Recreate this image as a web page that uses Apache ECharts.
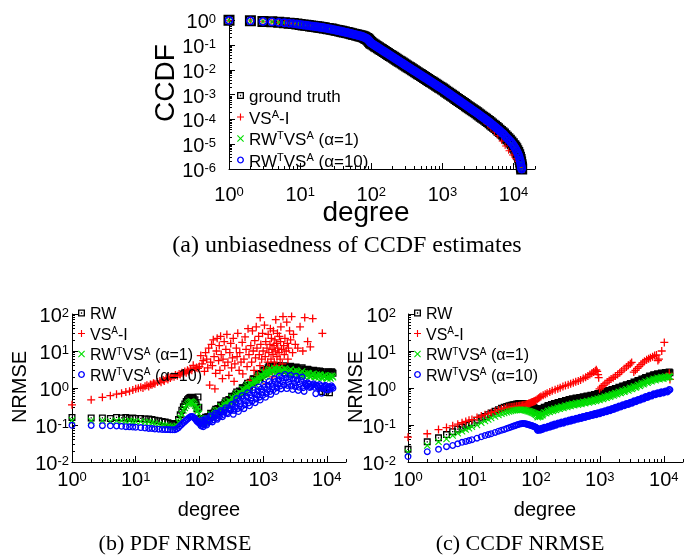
<!DOCTYPE html>
<html><head><meta charset="utf-8">
<script src="https://cdn.jsdelivr.net/npm/echarts@6/dist/echarts.min.js"></script>
<style>html,body{margin:0;padding:0;background:#fff;}#c{width:694px;height:557px;}</style>
</head><body><div id="c"></div>
<script>
// ---------- (a) CCDF ----------
const topDeg = [1,2,3,4,5,6,7,8,9,10,
11,12,13,14,15,16,17,18,19,20,
21,22,24,25,27,28,30,32,34,36,38,40,42,45,47,50,53,56,59,62,65,68,71,74,77,80,83,86,89,92,95,98,100,
105,110,115,120,126,132,138,145,152,160,168,176,185,194,204,214,224,235,247,259,272,285,299,314,330,346,363,381,400,420,441,463,486,510,535,562,590,620,650,683,717,752,790,829,870,913,958,
1005,1055,1107,1162,1219,1279,1342,1408,1477,1550,1626,1706,1790,1878,1970,2067,2169,2276,2388,2505,2628,2757,2893,3035,
3184,3341,3505,3677,3858,4048,4247,4456,4675,4904,5145,5398,5663,5942,6234,6540,6861,7199,7552,7924,8313,8721,9150,9600,10070,10400,10750,11100,11450,11800,12100,12350,12550,12750,12900,13000];
const topTruth = [1,0.955,0.91,0.87,0.83,0.8,0.77,0.74,0.71,0.681,
0.656,0.634,0.615,0.597,0.581,0.567,0.555,0.542,0.53,0.52,
0.507,0.494,0.472,0.462,0.444,0.435,0.42,0.403,0.387,0.373,0.36,0.349,0.338,0.324,0.314,0.302,0.29,0.278,0.268,0.258,0.249,0.241,0.234,0.227,0.217,0.207,0.196,0.186,0.174,0.157,0.141,0.129,0.12,
0.11,0.101,0.0927,0.0859,0.0785,0.0718,0.0662,0.0605,0.0553,0.0504,0.0461,0.0422,0.0385,0.0352,0.0321,0.0294,0.027,0.0248,0.0225,0.0207,0.0189,0.0173,0.0158,0.0145,0.0132,0.0121,0.0111,0.0101,0.00925,0.00845,0.00773,0.00706,0.00646,0.0059,0.0054,0.00493,0.00451,0.00411,0.00377,0.00344,0.00314,0.00288,0.00262,0.0024,0.00219,0.00201,0.00184,
0.00168,0.00153,0.00139,0.00126,0.00114,0.00104,0.000942,0.000855,0.00078,0.000708,0.000643,0.000583,0.00053,0.000481,0.000439,0.000398,0.000361,0.000328,0.000298,0.00027,0.000245,0.000224,0.000203,0.000185,
0.000167,0.000151,0.000136,0.000124,0.000112,0.000101,9.1e-5,8.2e-5,7.4e-5,6.6e-5,5.9e-5,5.3e-5,4.7e-5,4.2e-5,3.7e-5,3.3e-5,2.9e-5,2.6e-5,2.2e-5,1.9e-5,1.66e-5,1.44e-5,1.23e-5,1.05e-5,8.7e-6,7.6e-6,6.5e-6,5.5e-6,4.6e-6,3.8e-6,3.0e-6,2.4e-6,1.9e-6,1.5e-6,1.2e-6,1.0e-6];
const topA10 = [1,0.955,0.91,0.87,0.83,0.8,0.77,0.74,0.71,0.681,
0.656,0.634,0.615,0.597,0.581,0.567,0.555,0.542,0.53,0.52,
0.507,0.494,0.472,0.462,0.444,0.435,0.42,0.403,0.387,0.373,0.36,0.349,0.338,0.324,0.314,0.302,0.29,0.278,0.268,0.258,0.249,0.241,0.234,0.227,0.217,0.207,0.196,0.186,0.174,0.157,0.141,0.129,0.12,
0.11,0.101,0.0927,0.0859,0.0785,0.0718,0.0662,0.0605,0.0553,0.0504,0.0461,0.0422,0.0385,0.0352,0.0321,0.0294,0.027,0.0248,0.0225,0.0207,0.0189,0.0173,0.0158,0.0145,0.0132,0.0121,0.0111,0.0101,0.00925,0.00845,0.00773,0.00706,0.00646,0.0059,0.0054,0.00493,0.00451,0.00411,0.00377,0.00344,0.00314,0.00288,0.00262,0.0024,0.00219,0.00201,0.00184,
0.00168,0.00153,0.00139,0.00126,0.00114,0.00104,0.000942,0.000855,0.00078,0.000708,0.000643,0.000583,0.00053,0.000481,0.000439,0.000398,0.000361,0.000328,0.000298,0.00027,0.000245,0.000224,0.000203,0.000185,
0.000167,0.000151,0.000136,0.000124,0.000112,0.000101,9.1e-5,8.2e-5,7.4e-5,6.6e-5,5.9e-5,5.3e-5,4.7e-5,4.2e-5,3.7e-5,3.3e-5,2.9e-5,2.6e-5,2.2e-5,1.9e-5,1.66e-5,1.44e-5,1.23e-5,1.05e-5,8.5e-6,7.3e-6,6.2e-6,5.2e-6,4.3e-6,3.5e-6,2.8e-6,2.2e-6,1.8e-6,1.4e-6,1.15e-6,1.0e-6];
const topDegS = [1,2,3,4,5,6,7,8,9,10,12,14,16,18,20,23,26,30,34,38,43,48,54,60,67,75,82,88,93,100,110,120,135,150,170,190,215,240,270,300,340,380,430,480,540,600,680,760,850,950,1070,1200,1350,1500,1700,1900,2150,2400,2700,3000,3400,3800,4300,4800,5400,6000,6800,7600,8500,9500,10500,11500,12200,12700,13000];
const topVsa = [1,0.955,0.91,0.87,0.83,0.8,0.77,0.74,0.71,0.68,
0.64,0.6,0.57,0.54,0.52,0.48,0.45,0.42,0.39,0.365,
0.34,0.315,0.29,0.27,0.25,0.225,0.2,0.18,0.15,0.12,
0.101,0.086,0.069,0.057,0.045,0.0366,0.0292,0.0238,0.0192,0.0157,
0.0125,0.0102,0.0081,0.0066,0.0053,0.00437,0.00347,0.00282,0.00229,0.00186,
0.00148,0.00117,0.00093,0.00076,0.00059,0.00047,0.00037,0.000295,0.000234,0.00017,
0.00012,8.8e-5,6.3e-5,4.5e-5,3.1e-5,2.2e-5,1.35e-5,8.5e-6,5.5e-6,3.7e-6,
2.6e-6,2.0e-6,1.5e-6,1.2e-6,1.0e-6];
const topA1 = [1,0.955,0.91,0.87,0.83,0.8,0.77,0.74,0.71,0.68,
0.64,0.6,0.57,0.54,0.52,0.48,0.45,0.42,0.39,0.365,
0.34,0.315,0.29,0.27,0.25,0.225,0.2,0.18,0.15,0.12,
0.101,0.086,0.069,0.057,0.045,0.0366,0.0292,0.0238,0.0192,0.0157,
0.0125,0.0102,0.0081,0.0066,0.0053,0.00437,0.00347,0.00282,0.00229,0.00186,
0.00148,0.00117,0.00093,0.00076,0.00059,0.00047,0.00037,0.000295,0.000234,0.000188,
0.000145,0.000114,8.7e-5,6.8e-5,5.1e-5,4.0e-5,2.9e-5,2.1e-5,1.5e-5,1.05e-5,
7.5e-6,4.8e-6,3.0e-6,1.8e-6,1.0e-6];

// ---------- degrees for (b) and (c) ----------
const bDeg = [1,2,3,4,5,6,7,8,9,10,
12,14,16,18,20,23,26,29,32,35,38,
41,44,47,50,53,56,59,62,65,68,71,74,77,80,83,86,89,92,95,98,100,
105,110,115,120,125,130,140,150,160,170,180,190,200,215,230,245,260,280,300,320,
340,360,385,410,440,470,500,530,570,610,650,700,750,800,850,900,960,1020,1090,1160,
1240,1320,1400,1500,1600,1700,1800,1920,2050,2200,2350,2500,2700,2900,3100,3300,3550,3800,4100,4400,
4700,5000,5400,5800,6200,6700,7200,7700,8300,8900,9500,10200,11000,11800,12500];
const bDegB = [102,107,112,117,122,127,135,145,155,165,175,185,195,207,222,237,252,270,290,310,
330,350,372,397,425,455,485,515,550,590,630,675,725,775,825,875,930,990,1055,1125,
1200,1280,1360,1450,1550,1650,1750,1860,1985,2125,2275,2425,2600,2800,3000,3200,3425,3675,3950,4250,
4550,4850,5200,5600,6000,6450,6950,7450,8000,8600,9200,9850,10600,11400,12150];

// ---------- (b) PDF NRMSE ----------
const pdfRW = [0.16,0.155,0.155,0.15,0.16,0.155,0.16,0.15,0.155,0.15,
0.15,0.145,0.145,0.14,0.135,0.13,0.125,0.12,0.115,0.11,0.105,
0.1,0.11,0.14,0.19,0.25,0.31,0.37,0.43,0.48,0.52,0.55,0.56,0.55,0.53,0.48,0.42,0.35,0.27,0.57,0.3,0.15,
0.12,0.144,0.113,0.132,0.161,0.129,0.164,0.207,0.172,0.215,0.268,0.218,0.27,0.345,0.287,0.36,0.449,0.374,0.48,0.598,
0.496,0.61,0.782,0.644,0.81,1.02,0.844,1.06,1.35,1.12,1.41,1.79,1.5,1.88,2.36,1.93,2.43,3.05,2.52,3.16,
3.99,3.09,3.6,4.14,3.13,3.55,4.08,3.05,3.5,3.97,2.96,3.4,3.85,2.87,3.25,3.68,2.74,3.1,3.51,2.61,
2.95,3.19,2.57,2.8,3.03,2.43,2.7,2.9,0.8,2.6,0.75,2.3,0.74,2.75,2.5];
const pdfRWB = [0.144,0.112,0.134,0.118,0.144,0.133,0.167,0.16,0.202,0.192,0.24,0.225,0.279,0.263,0.334,0.319,0.399,0.381,0.486,0.463,
0.584,0.551,0.69,0.657,0.83,0.793,0.998,0.949,1.19,1.14,1.44,1.38,1.75,1.67,2.1,1.98,2.48,2.36,2.96,2.82,
3.55,3.3,3.83,3.35,3.85,3.33,3.8,3.27,3.75,3.23,3.67,3.16,3.61,3.09,3.5,2.99,3.39,2.9,3.28,2.81,
3.18,2.72,3.07,2.62,2.96,2.53,2.89,2.48,2.81,2.42,2.76,2.37,2.7,2.33,2.68];
const pdfA1 = [0.135,0.13,0.13,0.125,0.13,0.13,0.125,0.13,0.125,0.125,
0.125,0.12,0.12,0.115,0.11,0.105,0.1,0.097,0.094,0.09,0.088,
0.088,0.095,0.12,0.16,0.2,0.25,0.29,0.33,0.37,0.4,0.42,0.43,0.42,0.4,0.37,0.33,0.28,0.23,0.3,0.2,0.14,
0.12,0.142,0.106,0.125,0.153,0.115,0.15,0.195,0.153,0.195,0.248,0.191,0.245,0.319,0.255,0.33,0.419,0.332,0.43,0.555,
0.434,0.55,0.708,0.561,0.72,0.932,0.731,0.93,1.215,0.961,1.23,1.605,1.275,1.63,2.1,1.632,2.1,2.69,2.083,2.6,
3.25,2.42,2.95,3.54,2.55,3.0,3.48,2.51,2.9,3.36,2.38,2.75,3.19,2.25,2.6,3.01,2.13,2.45,2.83,2.0,
2.3,2.53,2.03,2.2,2.42,1.94,2.1,2.31,1.85,2.05,2.2,1.8,2.0,2.15,1.95];
const pdfA1B = [0.135,0.101,0.124,0.106,0.132,0.119,0.151,0.143,0.184,0.17,0.216,0.201,0.254,0.235,0.302,0.285,0.362,0.34,0.443,0.414,
0.529,0.488,0.626,0.584,0.756,0.708,0.907,0.846,1.08,1.01,1.31,1.22,1.59,1.49,1.9,1.75,2.21,2.02,2.57,2.35,
2.92,2.58,3.13,2.73,3.24,2.76,3.22,2.71,3.15,2.65,3.06,2.56,2.95,2.47,2.84,2.37,2.73,2.28,2.62,2.19,
2.52,2.12,2.45,2.04,2.38,2.0,2.3,1.93,2.25,1.89,2.19,1.86,2.16,1.82,2.1];
const pdfA10 = [0.098,0.097,0.096,0.095,0.094,0.092,0.09,0.089,0.088,0.087,
0.085,0.083,0.081,0.08,0.078,0.077,0.076,0.075,0.075,0.074,0.074,
0.074,0.078,0.085,0.095,0.105,0.115,0.125,0.135,0.145,0.155,0.165,0.17,0.17,0.165,0.155,0.145,0.135,0.125,0.12,0.115,0.11,
0.105,0.135,0.09,0.116,0.15,0.1,0.134,0.178,0.121,0.159,0.21,0.142,0.185,0.246,0.168,0.222,0.294,0.201,0.267,0.354,
0.194,0.315,0.519,0.231,0.378,0.623,0.277,0.449,0.744,0.332,0.54,0.896,0.4,0.652,1.07,0.472,0.769,1.26,0.561,0.914,
1.5,0.67,1.09,1.8,0.8,1.29,2.11,0.943,1.5,2.33,0.962,1.45,2.2,0.91,1.37,2.09,0.858,1.3,1.97,0.81,
1.22,1.38,1.03,1.15,1.3,0.7,1.1,1.24,0.72,1.05,1.18,0.89,1.0,1.15,0.98];
const pdfA10B = [0.123,0.094,0.123,0.101,0.132,0.109,0.144,0.123,0.165,0.138,0.184,0.153,0.203,0.17,0.227,0.192,0.255,0.216,0.29,0.245,
0.365,0.246,0.406,0.276,0.458,0.313,0.518,0.35,0.58,0.395,0.656,0.446,0.745,0.507,0.838,0.566,0.935,0.634,1.05,0.711,
1.18,0.8,1.33,0.896,1.49,1.01,1.66,1.13,1.84,1.2,1.86,1.17,1.79,1.13,1.73,1.09,1.66,1.05,1.6,1.01,
1.32,1.13,1.27,1.08,1.22,1.04,1.18,1.01,1.14,0.99,1.11,0.96,1.08,0.93,1.06];
const pdfVsaDeg = [1,2,3,4,5,6,7,8,9,10,11,12,13,14,15,16,17,18,19,20,22,24,25,27,28,30,32,33,35,37,40,42,45,48,50,53,56,59,62,65,68,72,76,80,85,90,95,100,
105,110,115,120,125,130,135,140,150,155,160,165,170,180,185,190,200,205,210,215,220,230,235,245,250,260,270,280,290,300,310,320,330,145,175,
340,350,360,380,390,400,420,430,450,470,480,500,520,540,560,580,600,620,640,660,680,700,720,740,760,780,800,820,850,870,890,900,920,950,980,1000,
1020,1050,1080,1100,1120,1150,1180,1200,1230,1250,1280,1300,1330,1350,1380,1400,1430,1450,1480,1500,1530,1550,1580,1600,1630,1650,1680,1700,1750,1780,1800,1850,1880,1900,1950,2000,2050,2100,2150,2200,2250,2300,2350,2400,2450,2500,2600,2700,2800,2900,3000,
3200,3500,3800,4200,4500,5000,5500,6000,8500];
const pdfVsaVal = [0.35,0.48,0.56,0.62,0.68,0.72,0.78,0.82,0.88,0.95,0.98,1.05,1.0,1.12,1.18,1.1,1.25,1.22,1.35,1.3,1.45,1.55,1.42,1.65,1.55,1.8,1.7,1.95,1.85,2.05,2.0,2.25,2.15,2.4,2.3,2.6,2.45,2.8,2.6,3.0,2.8,3.2,3.0,4.1,3.3,3.6,3.4,3.8,
7.5,4.5,5.5,2.8,9,6,3.5,12,5,15,4,20,7,2.5,10,22,5.5,14,3,25,8,1.8,6,18,4,11,28,5,2.2,9,16,3.5,6.5,1.2,0.95,
22,1.5,4.5,12,7,30,3,9,5,17,2.4,6,24,11,3.8,40,8,1.6,14,5,35,10,3,19,6.5,45,12,2.2,25,8,4,80,15,6,30,10,
3,50,7,18,1.3,12,5,28,9,3.5,15,40,6,22,11,2,8,35,14,5,20,10,70,4,16,7,30,12,3,9,25,6,18,45,11,4.5,85,14,8,22,2.8,10,60,16,6,12,35,20,85,9,28,
15,12,45,10,80,18,13,75,30];

// ---------- (c) CCDF NRMSE ----------
const ccdfRW = [0.022,0.035,0.045,0.055,0.066,0.077,0.087,0.097,0.105,0.115,
0.135,0.155,0.17,0.19,0.21,0.235,0.26,0.285,0.3,0.315,0.33,
0.34,0.35,0.36,0.37,0.375,0.38,0.38,0.38,0.375,0.37,0.36,0.355,0.35,0.34,0.33,0.32,0.31,0.3,0.29,0.28,0.27,
0.24,0.23,0.24,0.25,0.265,0.275,0.295,0.31,0.325,0.335,0.345,0.355,0.36,0.375,0.39,0.4,0.41,0.425,0.44,0.455,
0.465,0.475,0.49,0.5,0.51,0.52,0.53,0.54,0.555,0.57,0.58,0.595,0.61,0.625,0.64,0.655,0.675,0.7,0.72,0.74,
0.765,0.79,0.815,0.845,0.875,0.905,0.935,0.97,1.01,1.05,1.09,1.13,1.18,1.23,1.28,1.33,1.4,1.46,1.54,1.62,
1.7,1.77,1.86,1.95,2.03,2.12,2.2,2.26,2.32,2.37,2.42,2.45,2.48,2.52,2.6];
const ccdfRWB = [0.27,0.221,0.249,0.23,0.273,0.254,0.302,0.285,0.337,0.31,0.36,0.329,0.379,0.346,0.406,0.371,0.429,0.393,0.459,0.421,
0.488,0.442,0.512,0.465,0.535,0.484,0.557,0.503,0.581,0.528,0.61,0.553,0.639,0.581,0.671,0.609,0.705,0.647,0.753,0.686,
0.797,0.731,0.851,0.78,0.912,0.837,0.975,0.896,1.05,0.968,1.13,1.04,1.22,1.13,1.33,1.23,1.45,1.34,1.59,1.49,
1.76,1.63,1.92,1.79,2.11,1.95,2.29,2.1,2.43,2.2,2.54,2.29,2.61,2.35,2.71];
const ccdfA1 = [0.018,0.028,0.035,0.042,0.052,0.06,0.068,0.075,0.082,0.09,
0.1,0.115,0.128,0.14,0.155,0.17,0.185,0.2,0.21,0.22,0.23,
0.24,0.245,0.25,0.255,0.26,0.26,0.26,0.26,0.255,0.25,0.245,0.24,0.235,0.23,0.225,0.22,0.215,0.21,0.205,0.2,0.19,
0.175,0.17,0.175,0.18,0.19,0.2,0.215,0.225,0.235,0.245,0.25,0.26,0.265,0.275,0.285,0.295,0.3,0.31,0.32,0.33,
0.34,0.35,0.36,0.365,0.375,0.38,0.39,0.395,0.405,0.415,0.425,0.435,0.445,0.46,0.47,0.48,0.495,0.515,0.53,0.545,
0.565,0.585,0.605,0.63,0.655,0.68,0.705,0.73,0.76,0.79,0.82,0.855,0.895,0.935,0.975,1.02,1.07,1.12,1.18,1.25,
1.31,1.37,1.44,1.51,1.58,1.65,1.71,1.76,1.81,1.85,1.88,1.91,1.94,1.97,2.0];
const ccdfA1B = [0.193,0.162,0.182,0.167,0.196,0.183,0.219,0.207,0.244,0.226,0.263,0.24,0.278,0.254,0.297,0.273,0.316,0.287,0.334,0.306,
0.355,0.324,0.376,0.34,0.392,0.355,0.408,0.368,0.424,0.385,0.445,0.404,0.466,0.425,0.493,0.447,0.517,0.475,0.553,0.506,
0.588,0.541,0.631,0.581,0.682,0.628,0.735,0.675,0.79,0.729,0.853,0.788,0.928,0.86,1.01,0.938,1.11,1.03,1.22,1.14,
1.36,1.26,1.49,1.39,1.64,1.52,1.78,1.63,1.89,1.72,1.98,1.78,2.04,1.84,2.1];
const ccdfA10 = [0.014,0.019,0.022,0.026,0.028,0.031,0.034,0.036,0.038,0.04,
0.044,0.048,0.052,0.055,0.058,0.063,0.068,0.072,0.076,0.08,0.084,
0.088,0.092,0.096,0.1,0.103,0.106,0.108,0.11,0.11,0.108,0.106,0.104,0.102,0.1,0.098,0.096,0.094,0.092,0.09,0.088,0.085,
0.076,0.074,0.075,0.077,0.079,0.081,0.084,0.087,0.09,0.093,0.096,0.099,0.102,0.106,0.11,0.113,0.116,0.12,0.124,0.128,
0.132,0.135,0.139,0.143,0.148,0.152,0.156,0.16,0.165,0.17,0.175,0.181,0.187,0.192,0.197,0.202,0.208,0.214,0.221,0.228,
0.236,0.244,0.252,0.262,0.272,0.282,0.292,0.303,0.315,0.328,0.341,0.353,0.37,0.386,0.402,0.418,0.437,0.456,0.478,0.5,
0.522,0.543,0.57,0.597,0.622,0.65,0.68,0.7,0.72,0.74,0.76,0.78,0.8,0.84,0.9];
const ccdfA10B = [0.084,0.071,0.078,0.072,0.082,0.076,0.087,0.082,0.093,0.087,0.1,0.093,0.106,0.099,0.113,0.106,0.121,0.112,0.128,0.12,
0.137,0.127,0.144,0.134,0.153,0.143,0.162,0.15,0.171,0.16,0.182,0.169,0.193,0.181,0.205,0.19,0.215,0.2,0.229,0.214,
0.244,0.228,0.26,0.244,0.28,0.263,0.301,0.283,0.324,0.306,0.352,0.33,0.38,0.359,0.414,0.39,0.449,0.425,0.49,0.465,
0.537,0.506,0.585,0.555,0.641,0.604,0.698,0.656,0.746,0.694,0.788,0.732,0.83,0.779,0.914];
const ccdfVsaDeg = [1,2,3,4,5,6,7,8,9,10,12,14,16,18,20,23,26,29,32,35,38,41,44,47,50,53,56,59,62,65,68,71,74,77,80,83,86,89,92,95,98,100,
105,110,115,120,130,140,150,165,180,200,220,240,265,290,320,350,385,420,460,500,550,600,650,700,750,800,850,880,910,940,960,
990,1050,1120,1200,1300,1400,1500,1620,1750,1900,2050,2200,2400,2600,2800,3000,3150,
3400,3600,3850,4100,4400,4700,5000,5400,5800,6200,6700,7200,7700,8100,8400,9300,10200,12200,12500];
const ccdfVsaVal = [0.047,0.058,0.075,0.085,0.095,0.105,0.115,0.125,0.135,0.14,0.16,0.175,0.19,0.2,0.215,0.235,0.255,0.27,0.285,0.295,0.3,0.305,0.31,0.315,0.32,0.325,0.33,0.335,0.34,0.345,0.35,0.36,0.37,0.38,0.39,0.4,0.41,0.42,0.43,0.44,0.45,0.46,
0.5,0.53,0.56,0.59,0.64,0.68,0.72,0.78,0.84,0.9,0.96,1.02,1.1,1.16,1.22,1.3,1.38,1.48,1.55,1.65,1.8,1.95,2.1,2.3,2.5,2.7,2.9,3.1,2.8,2.3,1.9,
0.95,1.05,1.15,1.3,1.45,1.6,1.75,1.9,2.1,2.3,2.6,2.9,3.3,3.7,4.1,4.5,4.9,
2.7,3.0,3.4,3.8,4.3,4.8,5.3,5.8,6.2,6.6,7.0,7.5,7.8,5.5,6.0,10,17,2.5,1.7];

// ---------- ticks ----------
const xMajor = [1,10,100,1000,10000];
const xMinor = [2,3,4,5,6,7,8,9,20,30,40,50,60,70,80,90,200,300,400,500,600,700,800,900,2000,3000,4000,5000,6000,7000,8000,9000,20000];
const yTopMajor = [1e-6,1e-5,1e-4,1e-3,1e-2,1e-1,1];
const yTopLabelsA = [1e-6,1e-4,1e-2,1];
const yTopLabelsB = [1e-5,1e-3,1e-1];
const yTopMinor = [2e-6,3e-6,4e-6,5e-6,6e-6,7e-6,8e-6,9e-6,2e-5,3e-5,4e-5,5e-5,6e-5,7e-5,8e-5,9e-5,2e-4,3e-4,4e-4,5e-4,6e-4,7e-4,8e-4,9e-4,0.002,0.003,0.004,0.005,0.006,0.007,0.008,0.009,0.02,0.03,0.04,0.05,0.06,0.07,0.08,0.09,0.2,0.3,0.4,0.5,0.6,0.7,0.8,0.9];
const yBotMajor = [0.01,0.1,1,10,100];
const yBotMinor = [0.02,0.03,0.04,0.05,0.06,0.07,0.08,0.09,0.2,0.3,0.4,0.5,0.6,0.7,0.8,0.9,2,3,4,5,6,7,8,9,20,30,40,50,60,70,80,90];

const FONT = 'Liberation Sans';
const SQ = 'path://M0 0L10 0L10 10L0 10Z M1.9 1.9L1.9 8.1L8.1 8.1L8.1 1.9Z M4.1 4.1L5.9 4.1L5.9 5.9L4.1 5.9Z';
const PLUS = 'path://M4.2 0L5.8 0L5.8 4.2L10 4.2L10 5.8L5.8 5.8L5.8 10L4.2 10L4.2 5.8L0 5.8L0 4.2L4.2 4.2Z';
const CROSS = 'path://M0 1.1L1.1 0L5 3.9L8.9 0L10 1.1L6.1 5L10 8.9L8.9 10L5 6.1L1.1 10L0 8.9L3.9 5Z';
const RING = 'path://M10 5L9.33 7.5L7.5 9.33L5 10L2.5 9.33L0.67 7.5L0 5L0.67 2.5L2.5 0.67L5 0L7.5 0.67L9.33 2.5Z M8.1 5L7.68 3.45L6.55 2.32L5 1.9L3.45 2.32L2.32 3.45L1.9 5L2.32 6.55L3.45 7.68L5 8.1L6.55 7.68L7.68 6.55Z';

function expFmt(v){ const e = Math.round(Math.log10(v)); return '{b|10}{e|' + e + '}'; }
const tickRich = {
  b:{fontSize:20, fontFamily:FONT, color:'#000', lineHeight:14, padding:[5,0,0,0]},
  e:{fontSize:13, fontFamily:FONT, color:'#000', lineHeight:11, verticalAlign:'top'}
};
function labelCfg(vals, margin){
  return {show:true, customValues:vals, margin:margin, formatter:expFmt, rich:tickRich, color:'#000',
    showMinLabel:true, showMaxLabel:true, hideOverlap:false};
}
function axes(grid, min, max, majors, minors, isX, margin, labA, labB){
  const main = {type:'log', logBase:10, gridIndex:grid, min:min, max:max, position:isX?'bottom':'left',
    axisLine:{show:true, lineStyle:{color:'#000', width:1}},
    axisTick:{show:true, inside:true, length:6, lineStyle:{color:'#000', width:1}, customValues:majors},
    axisLabel:labelCfg(labA || majors, margin),
    splitLine:{show:false}, minorTick:{show:false}};
  const minor = {type:'log', logBase:10, gridIndex:grid, min:min, max:max, position:isX?'bottom':'left',
    axisLine:{show:false},
    axisTick:{show:true, inside:true, length:3, lineStyle:{color:'#000', width:1}, customValues:minors},
    axisLabel: labB ? labelCfg(labB, margin) : {show:false},
    splitLine:{show:false}, minorTick:{show:false}};
  return [main, minor];
}
const xAxis = [].concat(
  axes(0, 1, 20000, xMajor, xMinor, true, 17),
  axes(1, 1, 20000, xMajor, xMinor, true, 9),
  axes(2, 1, 20000, xMajor, xMinor, true, 9));
const yAxis = [].concat(
  axes(0, 1e-6, 1.5, yTopMajor, yTopMinor, false, 13, yTopLabelsA, yTopLabelsB),
  axes(1, 0.01, 100, yBotMajor, yBotMinor, false, 3),
  axes(2, 0.01, 100, yBotMajor, yBotMinor, false, 12));

function zip(xs, ys){ return xs.map((x,i)=>[x, ys[i]]); }
function sc(name, ax, data, symbol, size, color){
  return {type:'scatter', name:name, xAxisIndex:ax, yAxisIndex:ax, data:data, symbol:symbol,
    symbolSize:size, itemStyle:{color:color, opacity:1, borderWidth:0}, silent:true, animation:false};
}
const BLK='#000000', RED='#ff0000', GRN='#00dd00', BLU='#0000ff';
const series = [
  sc('a_gt', 0, zip(topDeg, topTruth), SQ, 11, BLK),
  sc('a_vsa', 0, zip(topDegS, topVsa), PLUS, 6, RED),
  sc('a_a1', 0, zip(topDegS, topA1), CROSS, 6, GRN),
  sc('a_a10', 0, zip(topDeg, topA10), RING, 9, BLU),
  sc('b_rw', 2, zip(bDeg, pdfRW).concat(zip(bDegB, pdfRWB)), SQ, 7, BLK),
  sc('b_vsa', 2, zip(pdfVsaDeg, pdfVsaVal), PLUS, 8, RED),
  sc('b_a1', 2, zip(bDeg, pdfA1).concat(zip(bDegB, pdfA1B)), CROSS, 7, GRN),
  sc('b_a10', 2, zip(bDeg, pdfA10).concat(zip(bDegB, pdfA10B)), RING, 7, BLU),
  sc('c_rw', 4, zip(bDeg, ccdfRW).concat(zip(bDegB, ccdfRWB)), SQ, 7, BLK),
  sc('c_vsa', 4, zip(ccdfVsaDeg, ccdfVsaVal), PLUS, 8, RED),
  sc('c_a1', 4, zip(bDeg, ccdfA1).concat(zip(bDegB, ccdfA1B)), CROSS, 7, GRN),
  sc('c_a10', 4, zip(bDeg, ccdfA10).concat(zip(bDegB, ccdfA10B)), RING, 7, BLU)
];

function legFmt(name){
  const k = name.split('_')[1];
  if (k==='gt') return '{n|ground truth}';
  if (k==='rw') return '{n|RW}';
  if (k==='vsa') return '{n|VS}{s|A}{n|-I}';
  if (k==='a1') return '{n|RW}{s|T}{n|VS}{s|A}{n| (\u03b1=1)}';
  return '{n|RW}{s|T}{n|VS}{s|A}{n| (\u03b1=10)}';
}
function legend(prefix, left, top, fs, lh){
  return {show:true, orient:'vertical', left:left, top:top, itemWidth:7, itemHeight:7, itemGap:0.5,
    selectedMode:false, formatter:legFmt, padding:0, itemStyle:{borderWidth:0},
    data:[{name:prefix+(prefix==='a_'?'gt':'rw'), icon:SQ},{name:prefix+'vsa', icon:PLUS},{name:prefix+'a1', icon:CROSS},{name:prefix+'a10', icon:RING}],
    textStyle:{fontFamily:FONT, fontSize:fs, color:'#000',
      rich:{n:{fontFamily:FONT, fontSize:fs, color:'#000', lineHeight:lh-4, padding:[4,0,0,0]},
            s:{fontFamily:FONT, fontSize:Math.round(fs*0.65), color:'#000', lineHeight:11, verticalAlign:'top'}}}};
}

function txt(x, y, s, font, rot){
  const o = {type:'text', x:x, y:y, silent:true,
    style:{text:s, font:font, fill:'#000', textAlign:'center', textVerticalAlign:'middle', align:'center', verticalAlign:'middle'}};
  if (rot) o.rotation = rot;
  return o;
}
const SANS = '"Liberation Sans", Arial, sans-serif';
const SERIF = '"Liberation Serif", "Times New Roman", serif';
const graphic = [
  txt(166, 83, 'CCDF', '28px ' + SANS, Math.PI/2),
  txt(366, 213, 'degree', '28px ' + SANS),
  txt(347, 246, '(a) unbiasedness of CCDF estimates', '24px ' + SERIF),
  txt(20, 387, 'NRMSE', '20px ' + SANS, Math.PI/2),
  txt(209, 510, 'degree', '20px ' + SANS),
  txt(175, 544, '(b) PDF NRMSE', '22px ' + SERIF),
  txt(356, 387, 'NRMSE', '20px ' + SANS, Math.PI/2),
  txt(545, 510, 'degree', '20px ' + SANS),
  txt(520, 544, '(c) CCDF NRMSE', '22px ' + SERIF)
];

const chart = echarts.init(document.getElementById('c'), null, {renderer:'canvas'});
chart.setOption({
  animation:false,
  backgroundColor:'#ffffff',
  textStyle:{fontFamily:FONT},
  grid:[{left:229, top:16, width:306, height:153},
        {left:72, top:314, width:274, height:148},
        {left:408, top:314, width:275, height:148}],
  xAxis:xAxis, yAxis:yAxis, series:series,
  legend:[legend('a_', 237, 85, 17, 19.5), legend('b_', 78, 303, 16, 18.5), legend('c_', 414, 303, 16, 18.5)],
  graphic:graphic
});
</script></body></html>
